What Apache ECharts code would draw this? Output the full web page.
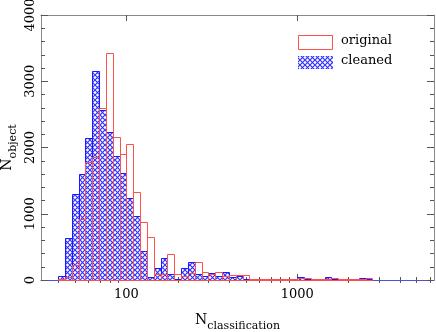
<!DOCTYPE html>
<html><head><meta charset="utf-8">
<script src="https://cdn.jsdelivr.net/npm/echarts@6/dist/echarts.min.js"></script>
<style>html,body{margin:0;padding:0;background:#fff}#c{width:436px;height:332px}</style>
</head><body><div id="c"></div>
<script>
// Histogram bins: log10(N) lower edges start at 1.6, each bin 0.04 decade wide
const binStartLog = 1.6;
const binStepLog = 0.04;
// counts per bin
const originalCounts = [10, 40, 226, 920, 1776, 1862, 2591, 3421, 2164, 1897, 2053, 1333, 881, 644, 85, 85, 392, 86, 60, 100, 277, 116, 90, 116, 60, 75, 75, 75, 15, 20, 15, 20, 15, 15, 20, 25, 30, 20, 20, 20, 25, 15, 15, 10, 15, 30];
const cleanedCounts  = [60, 629, 1293, 1595, 2138, 3155, 2566, 2239, 1872, 1610, 1233, 966, 438, 50, 176, 337, 85, 20, 176, 277, 86, 60, 110, 60, 116, 50, 60, 10, 20, 15, 20, 15, 15, 20, 10, 40, 15, 15, 10, 45, 15, 10, 10, 5, 30, 10];
const xMajorTicks = [100, 1000];
const xMinorTicks = [40, 50, 60, 70, 80, 90, 200, 300, 400, 500, 600, 700, 800, 900, 2000, 3000, 4000, 5000, 6000];
const xRange = [Math.pow(10, 1.5), Math.pow(10, 3.8)];
const yTicks = [0, 1000, 2000, 3000, 4000];

function binData(counts) {
  return counts.map((c, i) => {
    const lo = binStartLog + i * binStepLog;
    return [lo, lo + binStepLog, c];
  });
}

// crosshatch pattern
const P = 5;
const pc = document.createElement('canvas');
pc.width = P; pc.height = P;
const g = pc.getContext('2d');
g.fillStyle = '#ffffff'; g.fillRect(0, 0, P, P);
g.strokeStyle = '#3434ff'; g.lineWidth = 1.2;
g.beginPath(); g.moveTo(0, 0); g.lineTo(P, P); g.moveTo(P, 0); g.lineTo(0, P); g.stroke();
const hatch = { image: pc, repeat: 'repeat' };

const FONT = 'DejaVu Serif';
const frame = '#8a8a8a';

function barRenderer(fill, stroke) {
  return function (params, api) {
    const v = api.value(2);
    if (!v) return null;
    const p0 = api.coord([api.value(0), v]);
    const p1 = api.coord([api.value(1), 0]);
    const x0 = Math.round(p0[0]) + 0.5, x1 = Math.round(p1[0]) + 0.5;
    const y0 = Math.round(p0[1]) + 0.5, y1 = Math.round(p1[1]) + 0.5;
    return {
      type: 'rect',
      shape: { x: x0, y: y0, width: x1 - x0, height: y1 - y0 },
      style: { fill: fill, stroke: stroke, lineWidth: 1 }
    };
  };
}

const lg = v => Math.log10(v);
function xAxisDef(pos, ticks, len, extra) {
  return Object.assign({
    type: 'value', position: pos, min: lg(xRange[0]), max: lg(xRange[1]),
    axisLine: { show: false },
    splitLine: { show: false },
    axisTick: { show: true, inside: true, length: len, customValues: ticks.map(lg), lineStyle: { color: '#555', width: 1 } },
    axisLabel: { show: false }
  }, extra || {});
}

const chart = echarts.init(document.getElementById('c'), null, { renderer: 'canvas' });
chart.setOption({
  animation: false,
  backgroundColor: '#ffffff',
  grid: { left: 41, right: 2, top: 15, bottom: 52, containLabel: false, outerBoundsMode: 'none' },
  xAxis: [
    xAxisDef('bottom', xMajorTicks, 6, {
      axisLine: { show: true, onZero: false, lineStyle: { color: '#5050dd', width: 1 } },
      axisLabel: { show: true, customValues: xMajorTicks.map(lg), formatter: v => String(Math.round(Math.pow(10, v))), margin: 8, fontFamily: FONT, fontSize: 13, color: '#000' },
      name: '{n|N}{s|classification}', nameLocation: 'middle', nameGap: 33,
      nameTextStyle: { fontFamily: FONT, color: '#000', rich: { n: { fontFamily: FONT, fontSize: 14, verticalAlign: 'bottom', padding: [0, 0, 5, 0], color: '#000' }, s: { fontFamily: FONT, fontSize: 11, verticalAlign: 'bottom', color: '#000' } } }
    }),
    xAxisDef('bottom', xMinorTicks, 3),
    xAxisDef('top', xMajorTicks, 6, { axisLine: { show: true, onZero: false, lineStyle: { color: frame, width: 1 } } }),
    xAxisDef('top', xMinorTicks, 3)
  ],
  yAxis: [
    {
      type: 'value', position: 'left', min: 0, max: 4000, interval: 1000,
      splitLine: { show: false },
      axisLine: { show: true, lineStyle: { color: frame, width: 1 } },
      axisTick: { show: true, inside: true, length: 7, lineStyle: { color: '#555' } },
      minorTick: { show: true, splitNumber: 5, length: 4, lineStyle: { color: '#555' } },
      axisLabel: { show: true, rotate: 90, margin: 4, fontFamily: FONT, fontSize: 13, color: '#000', formatter: v => yTicks.indexOf(v) >= 0 ? String(v) : '' },
      name: '{n|N}{s|object}', nameLocation: 'middle', nameGap: 22, nameRotate: 90, nameMoveOverlap: false,
      nameTextStyle: { fontFamily: FONT, color: '#000', rich: { n: { fontFamily: FONT, fontSize: 14, verticalAlign: 'bottom', padding: [0, 0, 5, 0], color: '#000' }, s: { fontFamily: FONT, fontSize: 11, verticalAlign: 'bottom', color: '#000' } } }
    },
    {
      type: 'value', position: 'right', min: 0, max: 4000, interval: 1000,
      splitLine: { show: false },
      axisLine: { show: true, lineStyle: { color: frame, width: 1 } },
      axisTick: { show: true, inside: true, length: 7, lineStyle: { color: '#555' } },
      minorTick: { show: true, splitNumber: 5, length: 4, lineStyle: { color: '#555' } },
      axisLabel: { show: false }
    }
  ],
  series: [
    { name: 'cleaned', type: 'custom', xAxisIndex: 0, yAxisIndex: 0, renderItem: barRenderer(hatch, '#1a1aff'), data: binData(cleanedCounts), z: 2 },
    { name: 'original', type: 'custom', xAxisIndex: 0, yAxisIndex: 0, renderItem: barRenderer('none', '#ff5050'), data: binData(originalCounts), z: 3 }
  ],
  graphic: [
    { type: 'rect', shape: { x: 298.5, y: 35.5, width: 34, height: 14 }, style: { fill: '#fff', stroke: '#ff5050', lineWidth: 1 } },
    { type: 'text', left: 341, top: 34, style: { text: 'original', font: '13px "DejaVu Serif"', fill: '#000' } },
    { type: 'rect', shape: { x: 298, y: 56, width: 35, height: 13 }, style: { fill: hatch, stroke: null } },
    { type: 'text', left: 341, top: 54, style: { text: 'cleaned', font: '13px "DejaVu Serif"', fill: '#000' } }
  ]
});
</script></body></html>
